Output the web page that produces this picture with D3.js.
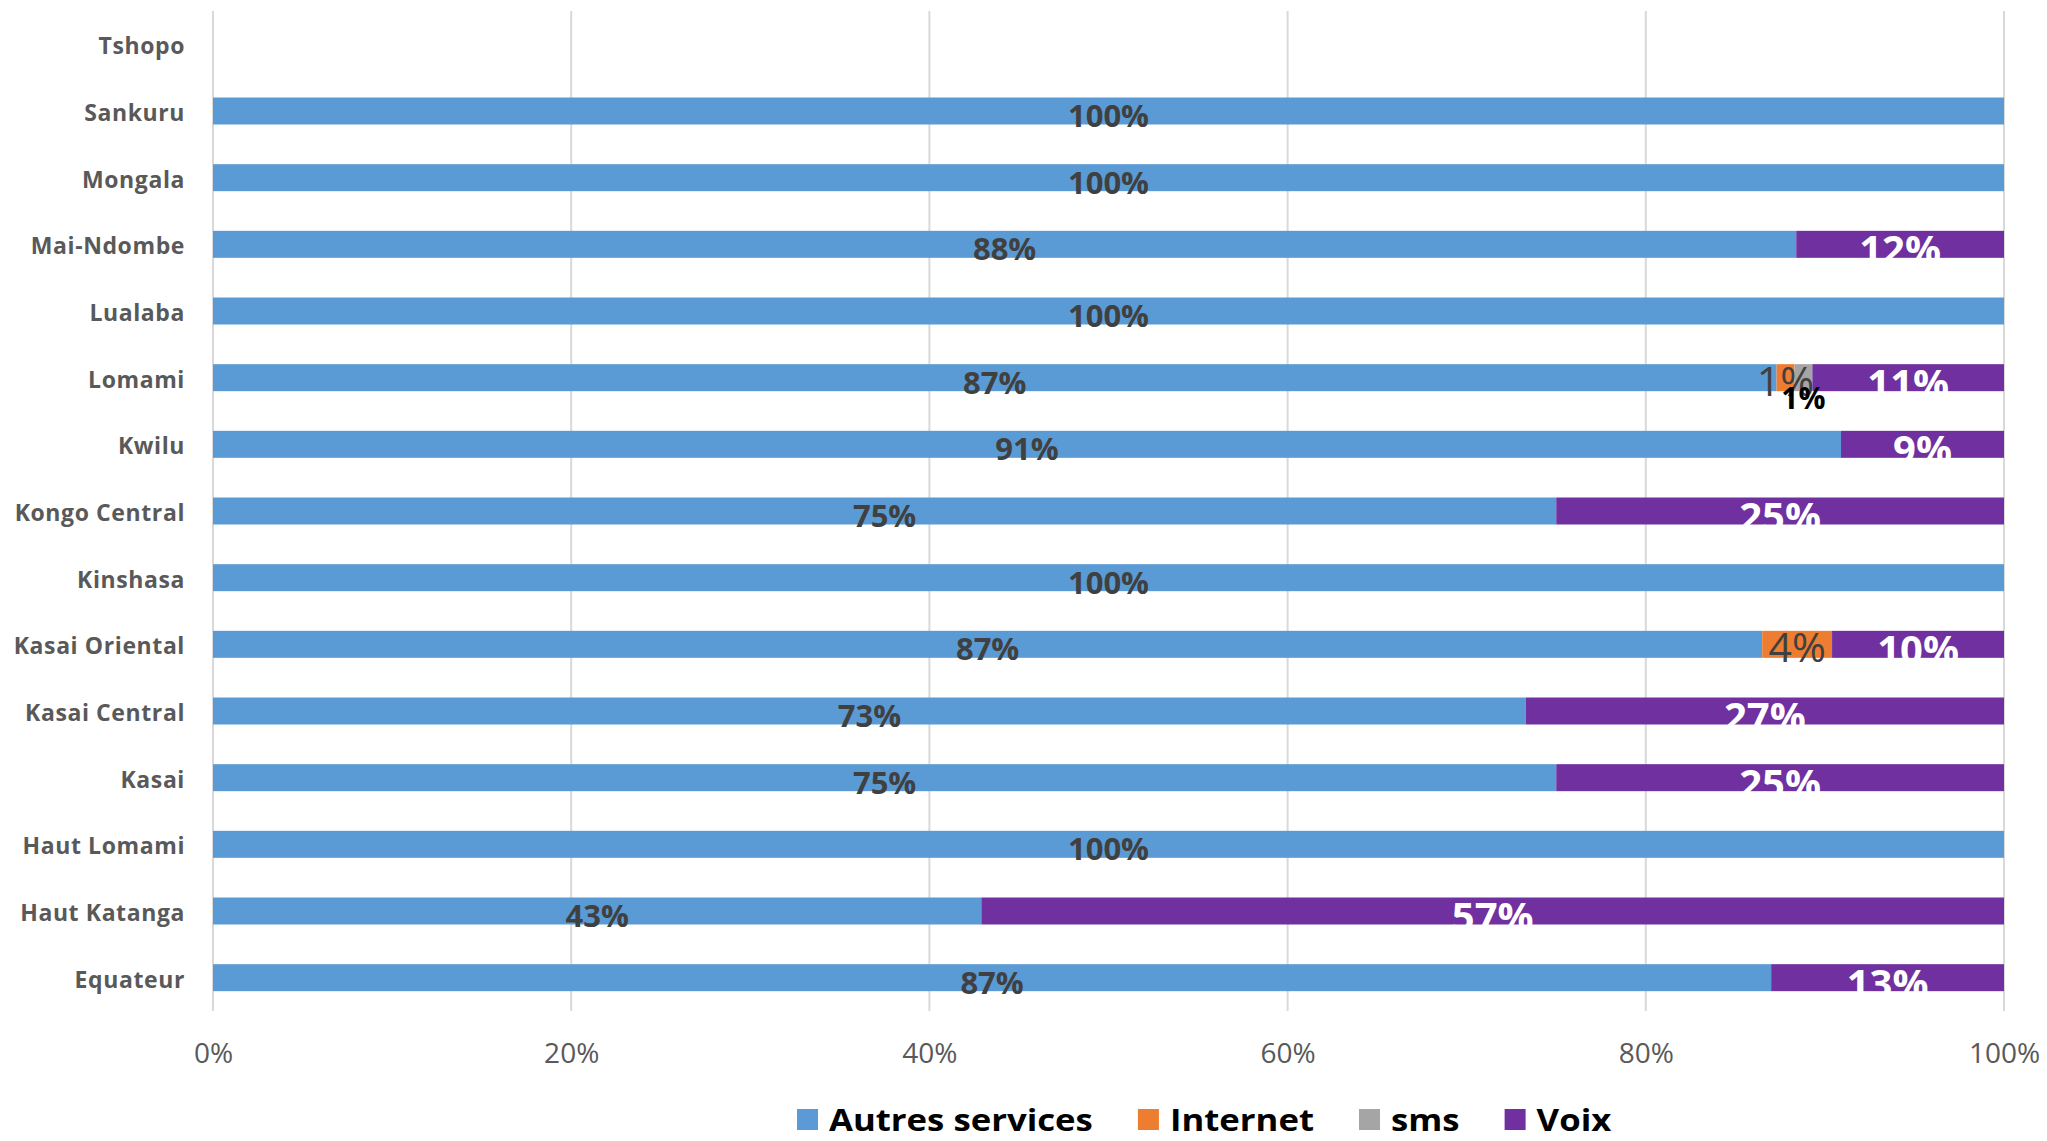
<!DOCTYPE html>
<html>
<head>
<meta charset="utf-8">
<script src="https://cdn.jsdelivr.net/npm/d3@7"></script>
<style>
  html, body { margin: 0; padding: 0; background: #ffffff; }
  svg { display: block; }
</style>
</head>
<body>
<svg id="chart" width="2047" height="1141"></svg>
<script>
// Provinces, listed top to bottom
const provinces = [
  "Tshopo", "Sankuru", "Mongala", "Mai-Ndombe", "Lualaba", "Lomami", "Kwilu",
  "Kongo Central", "Kinshasa", "Kasai Oriental", "Kasai Central", "Kasai",
  "Haut Lomami", "Haut Katanga", "Equateur"
];

// Share of each service type (%), per province
const autresServices = [0, 100, 100, 88.4, 100, 87.3, 90.9, 75, 100, 86.5, 73.3, 75, 100, 42.9, 87];
const internet       = [0, 0, 0, 0, 0, 1.0, 0, 0, 0, 3.9, 0, 0, 0, 0, 0];
const sms            = [0, 0, 0, 0, 0, 1.0, 0, 0, 0, 0, 0, 0, 0, 0, 0];
const voix           = [0, 0, 0, 11.6, 0, 10.7, 9.1, 25, 0, 9.6, 26.7, 25, 0, 57.1, 13];

const seriesNames = ["Autres services", "Internet", "sms", "Voix"];
const seriesValues = [autresServices, internet, sms, voix];
const xTicks = [0, 20, 40, 60, 80, 100];

const colors = ["#5B9BD5", "#ED7D31", "#A5A5A5", "#7030A0"];

// Data label look per series
const labelStyles = [
  { fill: "#404040", size: 31, weight: "bold",   dy: 16 },
  { fill: "#404040", size: 41, weight: "normal", dy: 18 },
  { fill: "#000000", size: 30, weight: "bold",   dy: 31 },
  { fill: "#ffffff", size: 40, weight: "bold",   dy: 20 }
];

const rows = provinces.map((p, i) => {
  const r = { province: p };
  seriesNames.forEach((s, k) => { r[s] = seriesValues[k][i]; });
  return r;
});

const stacked = d3.stack().keys(seriesNames)(rows);

const svg = d3.select("#chart");
const font = "'Open Sans', 'DejaVu Sans', sans-serif";

const plotLeft = 213, plotRight = 2004, plotTop = 11, plotBottom = 1011;

const x = d3.scaleLinear().domain([0, 100]).range([plotLeft, plotRight]);
const y = d3.scaleBand().domain(provinces).range([plotTop, plotBottom])
  .paddingInner(0.595).paddingOuter(0.2975);

// Vertical gridlines
svg.append("g")
  .selectAll("line")
  .data(xTicks)
  .join("line")
  .attr("x1", d => x(d)).attr("x2", d => x(d))
  .attr("y1", plotTop).attr("y2", plotBottom)
  .attr("stroke", "#d9d9d9")
  .attr("stroke-width", 2);

// Stacked bars
const layers = svg.append("g")
  .selectAll("g")
  .data(stacked)
  .join("g")
  .attr("fill", (d, i) => colors[i]);

layers.selectAll("rect")
  .data(d => d.filter(v => v[1] - v[0] > 0))
  .join("rect")
  .attr("x", d => x(d[0]))
  .attr("y", d => y(d.data.province))
  .attr("width", d => x(d[1]) - x(d[0]))
  .attr("height", y.bandwidth());

// Data labels
const labels = svg.append("g");
stacked.forEach((layer, i) => {
  const st = labelStyles[i];
  labels.append("g")
    .selectAll("text")
    .data(layer.filter(v => v[1] - v[0] > 0))
    .join("text")
    .attr("x", d => x((d[0] + d[1]) / 2))
    .attr("y", d => y(d.data.province) + y.bandwidth() / 2 + st.dy)
    .attr("text-anchor", "middle")
    .attr("font-family", font)
    .attr("font-size", st.size)
    .attr("font-weight", st.weight)
    .attr("fill", st.fill)
    .text(d => Math.round(d[1] - d[0]) + "%");
});

// X axis (tick labels only)
const xAxis = svg.append("g")
  .attr("transform", `translate(0,${plotBottom})`)
  .call(d3.axisBottom(x).tickValues(xTicks).tickSize(0).tickFormat(d => d + "%"));
xAxis.select(".domain").remove();
xAxis.selectAll("text")
  .attr("y", 52).attr("dy", 0)
  .attr("font-family", font)
  .attr("font-size", 28)
  .attr("fill", "#595959");

// Y axis (province names)
const yAxis = svg.append("g")
  .attr("transform", `translate(${plotLeft},0)`)
  .call(d3.axisLeft(y).tickSize(0));
yAxis.select(".domain").remove();
yAxis.selectAll("text")
  .attr("x", -28).attr("dy", "0.35em")
  .attr("transform", "translate(0,2)")
  .attr("font-family", font)
  .attr("font-size", 23)
  .attr("font-weight", "bold")
  .attr("letter-spacing", 0.6)
  .attr("fill", "#595959");

// Legend
const legend = svg.append("g");
const stretch = 1.12;
let lx = 797;
seriesNames.forEach((name, i) => {
  const item = legend.append("g");
  item.append("rect")
    .attr("x", lx).attr("y", 1109)
    .attr("width", 21).attr("height", 21)
    .attr("fill", colors[i]);
  const t = item.append("text")
    .attr("font-family", font)
    .attr("font-size", 31)
    .attr("font-weight", "bold")
    .attr("fill", "#000000")
    .text(name);
  const w = t.node().getComputedTextLength() * stretch;
  t.attr("transform", `translate(${lx + 32},1131) scale(${stretch},1)`);
  lx += 32 + w + 45;
});
</script>
</body>
</html>
